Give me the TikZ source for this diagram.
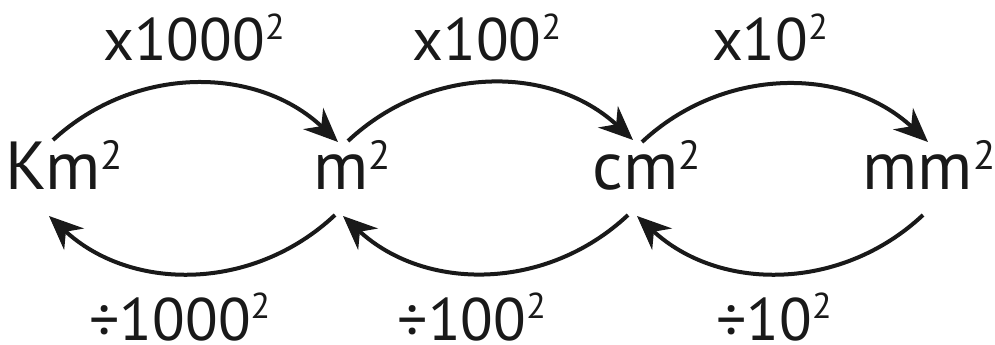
\documentclass[tikz,border=0pt]{standalone}
\usepackage{fontspec}
\setmainfont{PT Sans}
\usetikzlibrary{arrows.meta}
\newcommand\sqr{\raisebox{0.30em}{\scalebox{0.6}{2}}}
\newcommand\sqrl{\raisebox{0.36em}{\scalebox{0.6}{2}}}
\begin{document}
\begin{tikzpicture}[x=1pt,y=1pt,
  unit/.style={inner sep=0pt,anchor=base,text depth=0pt,font=\fontsize{68}{70}\selectfont,text=black!90},
  lab/.style={inner sep=0pt,anchor=base,text depth=0pt,font=\fontsize{60}{62}\selectfont,text=black!90},
  arr/.style={line width=4pt,black!90,-{Stealth[length=34pt,width=29pt,inset=11pt]},bend left=43}]
\useasboundingbox (0,0) rectangle (995,345);
\node[unit] (km) at (64,155) {Km\sqr};
\node[unit] (m) at (352,155) {m\sqr};
\node[unit] (cm) at (647,155) {cm\sqr};
\node[unit] (mm) at (929,155) {mm\sqr};
\node[lab] (t1) at (194,284) {x1000\sqrl};
\node[lab] (t2) at (487,284) {x100\sqrl};
\node[lab] (t3) at (770,284) {x10\sqrl};
\node[lab] (b1) at (180,5) {÷1000\sqrl};
\node[lab] (b2) at (472,5) {÷100\sqrl};
\node[lab] (b3) at (774,5) {÷10\sqrl};
\draw[arr] ([shift={(-11,50)}]km.base) to ([shift={(-14,48)}]m.base);
\draw[arr] ([shift={(-4,49)}]m.base) to ([shift={(-14,50)}]cm.base);
\draw[arr] ([shift={(-5,48)}]cm.base) to ([shift={(-1,48)}]mm.base);
\draw[arr] ([shift={(-17,-25)}]m.base) to ([shift={(-15,-26)}]km.base);
\draw[arr] ([shift={(-19,-25)}]cm.base) to ([shift={(-9,-26)}]m.base);
\draw[arr] ([shift={(-6,-25)}]mm.base) to ([shift={(-10,-26)}]cm.base);
\end{tikzpicture}
\end{document}
